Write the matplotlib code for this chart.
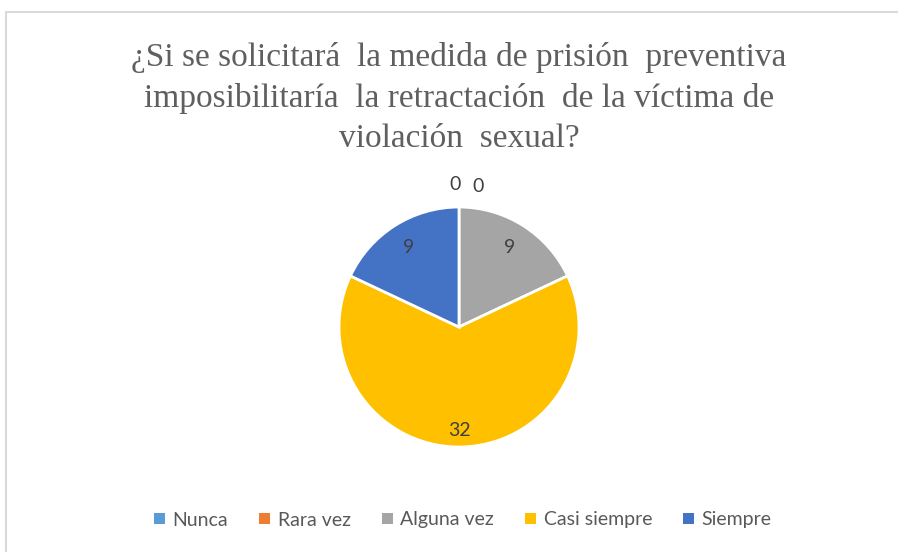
import numpy as np
import matplotlib.pyplot as plt
from matplotlib.patches import Rectangle

# data
categories = ["Nunca", "Rara vez", "Alguna vez", "Casi siempre", "Siempre"]
values = [0, 0, 9, 32, 9]
colors = ["#5B9BD5", "#ED7D31", "#A5A5A5", "#FFC000", "#4472C4"]
title = ("¿Si se solicitará  la medida de prisión  preventiva\n"
         "imposibilitaría  la retractación  de la víctima de\n"
         "violación  sexual?")

fig = plt.figure(figsize=(8.98, 5.52), dpi=100)
fig.patch.set_facecolor("white")

# light chart border (top and left visible)
fig.patches.append(Rectangle((6 / 898, -0.05), 1.0, (552 - 12) / 552 + 0.05,
                             transform=fig.transFigure, fill=False,
                             edgecolor="#D9D9D9", linewidth=1.5))

fig.text(459 / 898, (552 - 98) / 552, title, ha="center", va="center",
         fontsize=24, family="Liberation Serif", color="#5F5F5F",
         linespacing=1.42)

ax = fig.add_axes([(459 - 180) / 898, (225 - 180) / 552, 360 / 898, 360 / 552])
wedges, _ = ax.pie(values, colors=colors, startangle=90, counterclock=False,
                   wedgeprops=dict(edgecolor="white", linewidth=2))
ax.set_xlim(-1.5, 1.5)
ax.set_ylim(-1.5, 1.5)
ax.set_aspect("equal")
ax.axis("off")

# data labels
zero_pos = [(-0.035, 1.19), (0.155, 1.17)]
zi = 0
for w, v in zip(wedges, values):
    ang = np.deg2rad((w.theta1 + w.theta2) / 2)
    if v == 0:
        x, y = zero_pos[zi]
        zi += 1
    else:
        d = 0.78 if v < 20 else 0.86
        x, y = d * np.cos(ang), d * np.sin(ang)
    ax.text(x, y, str(v), ha="center", va="center", fontsize=14,
            family="Lato", color="#404040")

handles = [Rectangle((0, 0), 1, 1, facecolor=c) for c in colors]
fig.legend(handles, categories, loc="center", ncol=5,
           bbox_to_anchor=(463 / 898, (552 - 520) / 552), frameon=False,
           handlelength=0.55, handleheight=0.55, handletextpad=0.4,
           columnspacing=1.6, prop=dict(family="Lato", size=14),
           labelcolor="#595959")

fig.savefig("out.png", dpi=100)
